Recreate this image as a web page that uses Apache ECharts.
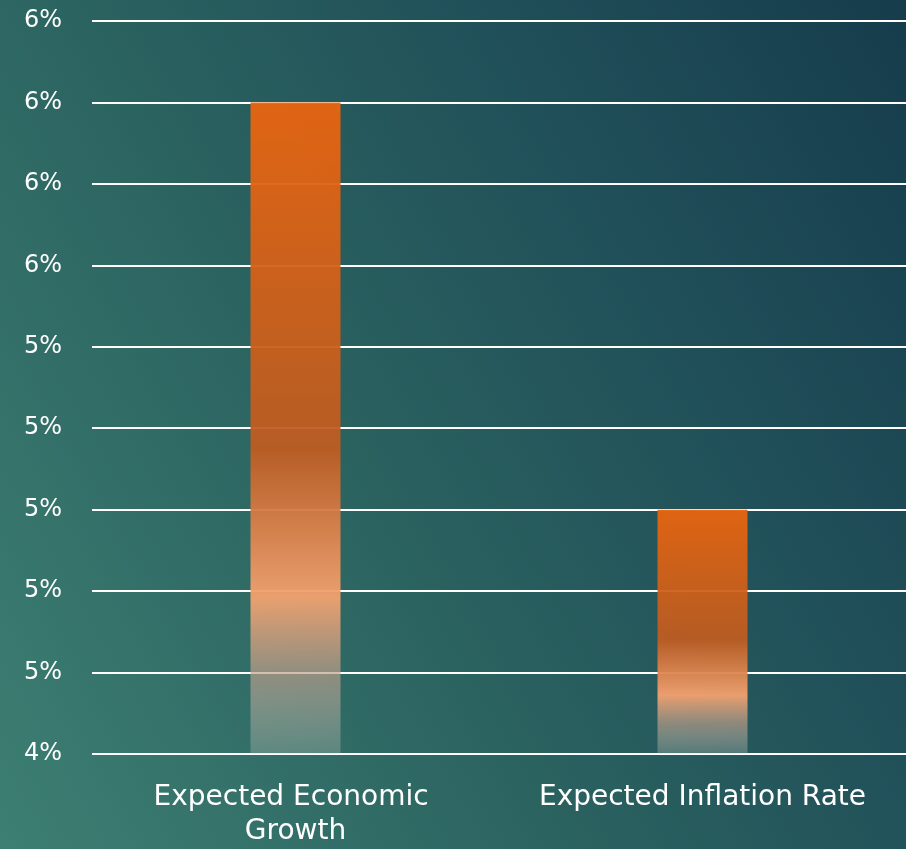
<!DOCTYPE html>
<html>
<head>
<meta charset="utf-8">
<script src="https://cdn.jsdelivr.net/npm/echarts@6/dist/echarts.min.js"></script>
<style>
html,body{margin:0;padding:0;width:906px;height:849px;overflow:hidden;}
#bg{position:absolute;left:0;top:0;width:906px;height:849px;background:linear-gradient(60deg,#3d7f73 0%,#2b6360 40%,#204f59 70%,#163c4c 100%);}
#chart{position:absolute;left:0;top:0;width:906px;height:849px;}
</style>
</head>
<body>
<div id="bg"></div>
<div id="chart"></div>
<script>
var categories = ['Expected Economic Growth', 'Expected Inflation Rate'];
var values = [6.0, 5.0];
var yMin = 4.4, yMax = 6.2, yStep = 0.2;

var chart = echarts.init(document.getElementById('chart'));
var fontFam = "'Century Gothic','DejaVu Sans',sans-serif";
var barGrad = new echarts.graphic.LinearGradient(0, 0, 0, 1, [
  {offset: 0, color: '#e9650f'},
  {offset: 0.53, color: '#bd5c22'},
  {offset: 0.76, color: '#f4a26f'},
  {offset: 0.88, color: 'rgba(190,160,140,0.7)'},
  {offset: 1, color: 'rgba(200,200,190,0.3)'}
]);
chart.setOption({
  backgroundColor: 'transparent',
  animation: false,
  grid: {left: 92, right: 0, top: 21, bottom: 94},
  xAxis: {
    type: 'category',
    data: categories,
    axisLine: {show: false},
    axisTick: {show: false},
    axisLabel: {
      color: '#ffffff', fontSize: 28, fontFamily: fontFam, margin: 27,
      width: 350, overflow: 'break', lineHeight: 34, interval: 0
    }
  },
  yAxis: {
    type: 'value',
    min: yMin, max: yMax, interval: yStep,
    axisLine: {show: false},
    axisTick: {show: false},
    splitLine: {show: true, lineStyle: {color: '#ffffff', width: 2}},
    axisLabel: {
      color: '#ffffff', fontSize: 24, fontFamily: fontFam, margin: 30,
      padding: [5, 0, 0, 0],
      formatter: function (v) { return Math.round(v) + '%'; }
    }
  },
  series: [{
    type: 'bar',
    data: values,
    barWidth: 90,
    itemStyle: {color: barGrad, opacity: 0.95}
  }]
});
</script>
</body>
</html>
